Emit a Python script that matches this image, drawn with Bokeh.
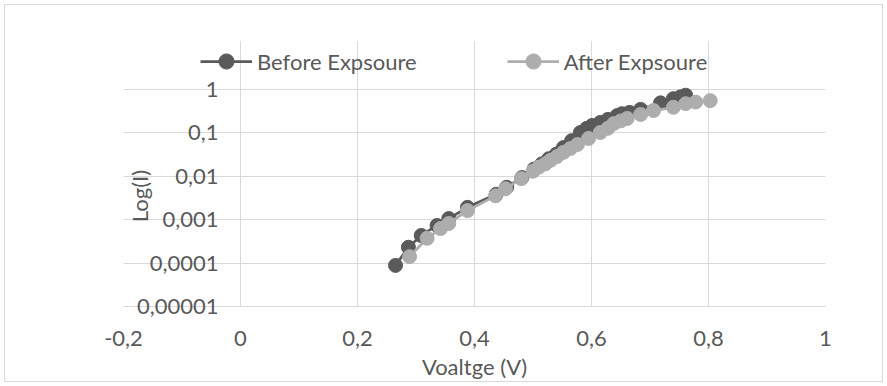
from bokeh.plotting import figure
from bokeh.models import (FixedTicker, CustomJSTickFormatter, Legend, LegendItem, Range1d)
from bokeh.embed import file_html
from bokeh.resources import INLINE

# ---- data ----
series_names = ["Before Expsoure", "After Expsoure"]

before_v = [0.265, 0.287, 0.309, 0.336, 0.356, 0.388, 0.437, 0.455, 0.481, 0.502,
            0.515, 0.527, 0.540, 0.552, 0.566, 0.581, 0.592, 0.601, 0.615, 0.628,
            0.644, 0.652, 0.665, 0.684, 0.718, 0.740, 0.752, 0.761]
before_i = [8.8e-5, 2.3e-4, 4.3e-4, 7.3e-4, 1.05e-3, 1.9e-3, 3.8e-3, 5.5e-3, 9.2e-3, 0.0145,
            0.019, 0.025, 0.032, 0.045, 0.065, 0.10, 0.125, 0.145, 0.17, 0.20,
            0.245, 0.27, 0.29, 0.34, 0.48, 0.60, 0.66, 0.72]

after_v = [0.289, 0.319, 0.342, 0.356, 0.388, 0.436, 0.453, 0.480, 0.500, 0.510,
           0.521, 0.530, 0.541, 0.552, 0.564, 0.576, 0.595, 0.615, 0.628, 0.638,
           0.650, 0.661, 0.684, 0.706, 0.740, 0.761, 0.778, 0.803]
after_i = [1.4e-4, 3.7e-4, 6.2e-4, 8.1e-4, 1.6e-3, 3.5e-3, 5.1e-3, 8.7e-3, 0.0129, 0.016,
           0.019, 0.023, 0.028, 0.035, 0.043, 0.053, 0.073, 0.10, 0.125, 0.16,
           0.185, 0.21, 0.26, 0.32, 0.38, 0.46, 0.50, 0.54]

x_ticks = [-0.2, 0, 0.2, 0.4, 0.6, 0.8, 1]
y_ticks = [1e-5, 1e-4, 1e-3, 1e-2, 1e-1, 1]
x_title = "Voaltge (V)"
y_title = "Log(I)"

# ---- layout / styles ----
W, H = 887, 386
LEFT, RIGHT, TOP, BOTTOM = 123, 62, 40, 80      # frame borders (px)
AXIS_TOP_PX = 88.5                               # where y = 1 sits (px from top)
DARK = "#5a5a5a"
LIGHT = "#adadad"
GRID = "#d9d9d9"
TEXT = "#595959"
FONT = "Lato"
FS = "22px"

# the frame also holds the legend strip above y = 1
decade_px = (H - BOTTOM - AXIS_TOP_PX) / 5.0
y_top = 10 ** ((AXIS_TOP_PX - TOP) / decade_px)

p = figure(width=W, height=H, output_backend="svg", toolbar_location=None,
           y_axis_type="log", x_range=Range1d(-0.2, 1), y_range=Range1d(1e-5, y_top),
           min_border_left=LEFT, min_border_right=RIGHT, min_border_top=TOP,
           min_border_bottom=BOTTOM,
           styles={"background-color": "white",
                   "outline": "1px solid #d9d9d9", "outline-offset": "-5px"})
p.background_fill_color = "white"
p.border_fill_color = None
p.outline_line_color = None

fmt = CustomJSTickFormatter(code="return String(tick).replace('.', ',');")
p.xaxis.ticker = FixedTicker(ticks=x_ticks)
p.yaxis.ticker = FixedTicker(ticks=y_ticks)
p.xaxis.formatter = fmt
p.yaxis.formatter = fmt

for ax in p.axis:
    ax.axis_line_color = GRID
    ax.major_tick_line_color = None
    ax.minor_tick_line_color = None
    ax.major_label_text_font = FONT
    ax.major_label_text_font_size = FS
    ax.major_label_text_color = TEXT
    ax.axis_label_text_font = FONT
    ax.axis_label_text_font_size = FS
    ax.axis_label_text_color = TEXT
    ax.axis_label_text_font_style = "normal"

p.xaxis.axis_label = x_title
# trailing no-break spaces centre the visible title on the 1e-5..1 span
p.yaxis.axis_label = y_title + "\u00a0" * 8
p.xaxis.major_label_standoff = 18
p.xaxis.axis_label_standoff = 4
# y labels sit beside the x = 0 line, inside the plot area
p.yaxis.axis_line_color = None
p.yaxis.bounds = (y_ticks[0], y_ticks[-1])
p.yaxis.major_label_standoff = -101
p.yaxis.axis_label_standoff = -19

p.xgrid.grid_line_color = GRID
p.ygrid.grid_line_color = GRID
p.xgrid.grid_line_width = 1
p.ygrid.grid_line_width = 1
p.xgrid.bounds = (y_ticks[0], y_ticks[-1])

l1 = p.line(before_v, before_i, line_color=DARK, line_width=2.75)
s1 = p.scatter(before_v, before_i, marker="circle", size=14, fill_color=DARK, line_color=DARK)
l2 = p.line(after_v, after_i, line_color=LIGHT, line_width=2.75)
s2 = p.scatter(after_v, after_i, marker="circle", size=14, fill_color=LIGHT, line_color=LIGHT)

legend = Legend(items=[LegendItem(label=series_names[0], renderers=[l1, s1]),
                       LegendItem(label=series_names[1], renderers=[l2, s2])],
                orientation="horizontal", location=(77, 226),
                glyph_width=52, glyph_height=38, label_standoff=5, spacing=90,
                padding=0, margin=0, label_text_font=FONT, label_text_font_size=FS,
                label_text_color=TEXT, background_fill_alpha=0, border_line_color=None)
p.add_layout(legend)

open("out.html", "w").write(file_html(p, INLINE))
